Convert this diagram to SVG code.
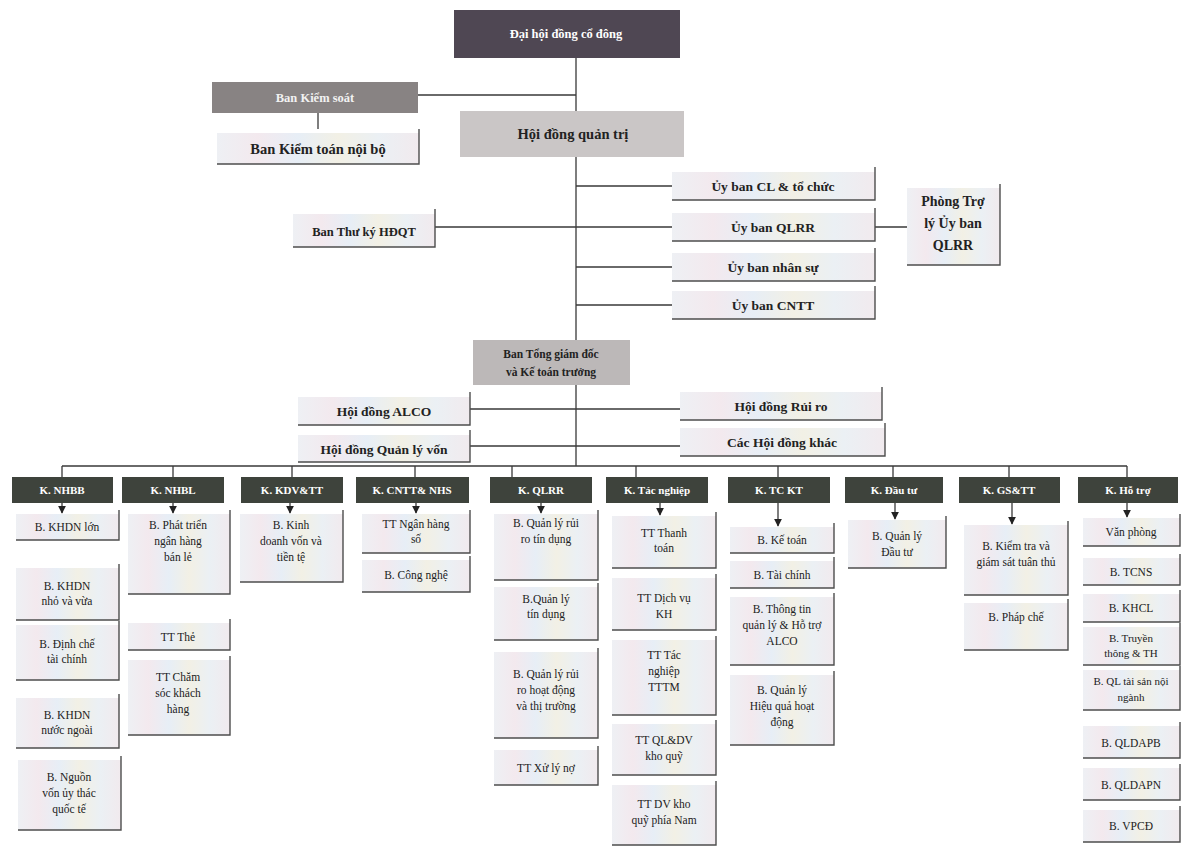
<svg xmlns="http://www.w3.org/2000/svg" width="1197" height="847" viewBox="0 0 1197 847">
<style>
.bg{fill:#ffffff}
.lb{fill:url(#pastel)}
.ed{fill:none;stroke:#4d4d4d;stroke-width:1.4}
.hd{fill:#3e433c}
.top{fill:#4f4753}
.ks{fill:#888383}
.hq{fill:#cac6c6}
.tg{fill:#bcb8b8}
.t{font-family:"Liberation Serif","DejaVu Serif",serif;font-size:11.5px;fill:#222;text-anchor:middle}
.b{font-weight:bold}
.u{font-size:13.5px}
.w{fill:#ffffff;font-weight:bold}
.h{font-size:11px}
.cn{stroke:#3a3a3a;stroke-width:1.3;fill:none}
</style>
<defs>
<linearGradient id="pastel" x1="0" y1="0" x2="1" y2="0">
<stop offset="0" stop-color="#eef0f4"/>
<stop offset="0.2" stop-color="#f3e9ee"/>
<stop offset="0.4" stop-color="#e7eef6"/>
<stop offset="0.6" stop-color="#f2f0e5"/>
<stop offset="0.8" stop-color="#ebf0f4"/>
<stop offset="1" stop-color="#f1eaee"/>
</linearGradient>
<marker id="arr" viewBox="0 0 10 10" refX="9" refY="5" markerWidth="6" markerHeight="6" orient="auto">
<path d="M0,0 L10,5 L0,10 z" fill="#222"/>
</marker>
</defs>
<rect class="bg" x="0" y="0" width="1197" height="847"/>

<g id="connectors">
<path class="cn" d="M576,58 V111 M418,95 H576 M318,113 V129 M576,157 V340 M576,186 H672 M435,227 H672 M576,267 H672 M576,305 H672 M875,227 H907 M576,385 V466 M470,409 H680 M470,446 H680 M62,466 H1127"/>
<path class="cn" d="M62,466 V477 M173,466 V477 M292,466 V477 M415,466 V477 M512,466 V477 M636,466 V477 M778,466 V477 M893,466 V477 M1009,466 V477 M1127,466 V477"/>
<g marker-end="url(#arr)">
<path class="cn" d="M62,503 V513"/>
<path class="cn" d="M173,503 V513"/>
<path class="cn" d="M290,503 V513"/>
<path class="cn" d="M416,503 V513"/>
<path class="cn" d="M541,503 V513"/>
<path class="cn" d="M660,503 V515"/>
<path class="cn" d="M778,503 V526"/>
<path class="cn" d="M895,503 V519"/>
<path class="cn" d="M1012,503 V524"/>
<path class="cn" d="M1127,503 V517"/>
</g>
</g>

<g id="dhdcd"><rect class="top" x="454" y="10" width="226" height="48"/><text class="t w" x="566" y="38" style="font-size:12.5px">Đại hội đồng cổ đông</text></g>
<g id="bks"><rect class="ks" x="212" y="82" width="206" height="31"/><text class="t w" x="315" y="102" style="font-size:12.5px;fill:#f2f2f2">Ban Kiểm soát</text></g>
<g id="bktnb"><rect class="lb" x="217" y="133" width="202" height="31"/><path class="ed" d="M419,129 V164 H217"/><text class="t b" x="318" y="154" style="font-size:14.5px">Ban Kiểm toán nội bộ</text></g>
<g id="hdqt"><rect class="hq" x="460" y="111" width="224" height="46"/><text class="t b" x="573" y="139" style="font-size:14.5px">Hội đồng quản trị</text></g>

<g id="ub-cl"><rect class="lb" x="672" y="172" width="203" height="28"/><path class="ed" d="M875,167 V200 H672"/><text class="t b u" x="773" y="191">Ủy ban CL &amp; tổ chức</text></g>
<g id="ub-qlrr"><rect class="lb" x="672" y="213" width="203" height="28"/><path class="ed" d="M875,208 V241 H672"/><text class="t b u" x="773" y="232">Ủy ban QLRR</text></g>
<g id="ub-ns"><rect class="lb" x="672" y="253" width="203" height="28"/><path class="ed" d="M875,248 V281 H672"/><text class="t b u" x="773" y="272">Ủy ban nhân sự</text></g>
<g id="ub-cntt"><rect class="lb" x="672" y="291" width="203" height="28"/><path class="ed" d="M875,286 V319 H672"/><text class="t b u" x="773" y="310">Ủy ban CNTT</text></g>
<g id="btk"><rect class="lb" x="293" y="214" width="142" height="33"/><path class="ed" d="M435,209 V247 H293"/><text class="t b" x="364" y="236" style="font-size:12.5px">Ban Thư ký HĐQT</text></g>
<g id="ptl"><rect class="lb" x="907" y="188" width="93" height="77"/><path class="ed" d="M1000,184 V265 H907"/><text class="t b" x="953" y="206" style="font-size:14px">Phòng Trợ<tspan x="953" dy="22">lý Ủy ban</tspan><tspan x="953" dy="22">QLRR</tspan></text></g>

<g id="btgd"><rect class="tg" x="473" y="340" width="157" height="45"/><text class="t b" x="551" y="358" style="font-size:11.5px">Ban Tổng giám đốc<tspan x="551" dy="18">và Kế toán trưởng</tspan></text></g>
<g id="hd-alco"><rect class="lb" x="298" y="397" width="172" height="28"/><path class="ed" d="M470,392 V425 H298"/><text class="t b u" x="384" y="416">Hội đồng ALCO</text></g>
<g id="hd-rr"><rect class="lb" x="680" y="392" width="202" height="28"/><path class="ed" d="M882,387 V420 H680"/><text class="t b u" x="781" y="411">Hội đồng Rủi ro</text></g>
<g id="hd-qlv"><rect class="lb" x="298" y="435" width="172" height="27"/><path class="ed" d="M470,430 V462 H298"/><text class="t b u" x="384" y="454">Hội đồng Quản lý vốn</text></g>
<g id="hd-khac"><rect class="lb" x="680" y="428" width="205" height="28"/><path class="ed" d="M885,423 V456 H680"/><text class="t b u" x="782" y="447">Các Hội đồng khác</text></g>

<g id="k-nhbb"><rect class="hd" x="12" y="477" width="101" height="26"/><text class="t w h" x="62" y="494">K. NHBB</text></g>
<g id="k-nhbl"><rect class="hd" x="122" y="477" width="102" height="26"/><text class="t w h" x="173" y="494">K. NHBL</text></g>
<g id="k-kdvtt"><rect class="hd" x="241" y="477" width="102" height="26"/><text class="t w h" x="292" y="494">K. KDV&amp;TT</text></g>
<g id="k-cntt"><rect class="hd" x="356" y="477" width="113" height="26"/><text class="t w h" x="412" y="494">K. CNTT&amp; NHS</text></g>
<g id="k-qlrr"><rect class="hd" x="490" y="477" width="102" height="26"/><text class="t w h" x="541" y="494">K. QLRR</text></g>
<g id="k-tn"><rect class="hd" x="606" y="477" width="102" height="26"/><text class="t w h" x="657" y="494">K. Tác nghiệp</text></g>
<g id="k-tckt"><rect class="hd" x="728" y="477" width="102" height="26"/><text class="t w h" x="779" y="494">K. TC KT</text></g>
<g id="k-dt"><rect class="hd" x="845" y="477" width="98" height="26"/><text class="t w h" x="894" y="494">K. Đầu tư</text></g>
<g id="k-gstt"><rect class="hd" x="959" y="477" width="101" height="26"/><text class="t w h" x="1009" y="494">K. GS&amp;TT</text></g>
<g id="k-ht"><rect class="hd" x="1078" y="477" width="100" height="26"/><text class="t w h" x="1128" y="494">K. Hỗ trợ</text></g>

<g id="c1-1"><rect class="lb" x="16" y="514" width="103" height="26"/><path class="ed" d="M119,510 V540 H16"/><text class="t" x="67" y="531">B. KHDN lớn</text></g>
<g id="c1-2"><rect class="lb" x="16" y="568" width="103" height="52"/><path class="ed" d="M119,564 V620 H16"/><text class="t" x="67" y="590">B. KHDN<tspan x="67" dy="15">nhỏ và vừa</tspan></text></g>
<g id="c1-3"><rect class="lb" x="16" y="625" width="103" height="55"/><path class="ed" d="M119,621 V680 H16"/><text class="t" x="67" y="648">B. Định chế<tspan x="67" dy="15">tài chính</tspan></text></g>
<g id="c1-4"><rect class="lb" x="16" y="698" width="103" height="50"/><path class="ed" d="M119,694 V748 H16"/><text class="t" x="67" y="719">B. KHDN<tspan x="67" dy="15">nước ngoài</tspan></text></g>
<g id="c1-5"><rect class="lb" x="18" y="760" width="103" height="70"/><path class="ed" d="M121,756 V830 H18"/><text class="t" x="69" y="781">B. Nguồn<tspan x="69" dy="16">vốn ủy thác</tspan><tspan x="69" dy="16">quốc tế</tspan></text></g>

<g id="c2-1"><rect class="lb" x="128" y="514" width="102" height="80"/><path class="ed" d="M230,510 V594 H128"/><text class="t" x="178" y="529">B. Phát triển<tspan x="178" dy="16">ngân hàng</tspan><tspan x="178" dy="16">bán lẻ</tspan></text></g>
<g id="c2-2"><rect class="lb" x="128" y="623" width="102" height="27"/><path class="ed" d="M230,619 V650 H128"/><text class="t" x="178" y="641">TT Thẻ</text></g>
<g id="c2-3"><rect class="lb" x="128" y="660" width="102" height="75"/><path class="ed" d="M230,656 V735 H128"/><text class="t" x="178" y="681">TT Chăm<tspan x="178" dy="16">sóc khách</tspan><tspan x="178" dy="16">hàng</tspan></text></g>

<g id="c3-1"><rect class="lb" x="240" y="514" width="103" height="68"/><path class="ed" d="M343,510 V582 H240"/><text class="t" x="291" y="529">B. Kinh<tspan x="291" dy="16">doanh vốn và</tspan><tspan x="291" dy="16">tiền tệ</tspan></text></g>

<g id="c4-1"><rect class="lb" x="362" y="514" width="108" height="39"/><path class="ed" d="M470,510 V553 H362"/><text class="t" x="416" y="528">TT Ngân hàng<tspan x="416" dy="15">số</tspan></text></g>
<g id="c4-2"><rect class="lb" x="362" y="560" width="108" height="32"/><path class="ed" d="M470,556 V592 H362"/><text class="t" x="416" y="579">B. Công nghệ</text></g>

<g id="c5-1"><rect class="lb" x="494" y="514" width="104" height="66"/><path class="ed" d="M598,510 V580 H494"/><text class="t" x="546" y="527">B. Quản lý rủi<tspan x="546" dy="16">ro tín dụng</tspan></text></g>
<g id="c5-2"><rect class="lb" x="494" y="587" width="104" height="53"/><path class="ed" d="M598,583 V640 H494"/><text class="t" x="546" y="603">B.Quản lý<tspan x="546" dy="15">tín dụng</tspan></text></g>
<g id="c5-3"><rect class="lb" x="494" y="652" width="104" height="86"/><path class="ed" d="M598,648 V738 H494"/><text class="t" x="546" y="678">B. Quản lý rủi<tspan x="546" dy="16">ro hoạt động</tspan><tspan x="546" dy="16">và thị trường</tspan></text></g>
<g id="c5-4"><rect class="lb" x="494" y="750" width="104" height="35"/><path class="ed" d="M598,746 V785 H494"/><text class="t" x="546" y="772">TT Xử lý nợ</text></g>

<g id="c6-1"><rect class="lb" x="612" y="516" width="104" height="52"/><path class="ed" d="M716,512 V568 H612"/><text class="t" x="664" y="537">TT Thanh<tspan x="664" dy="15">toán</tspan></text></g>
<g id="c6-2"><rect class="lb" x="612" y="578" width="104" height="52"/><path class="ed" d="M716,574 V630 H612"/><text class="t" x="664" y="602">TT Dịch vụ<tspan x="664" dy="16">KH</tspan></text></g>
<g id="c6-3"><rect class="lb" x="612" y="640" width="104" height="75"/><path class="ed" d="M716,636 V715 H612"/><text class="t" x="664" y="659">TT Tác<tspan x="664" dy="16">nghiệp</tspan><tspan x="664" dy="16">TTTM</tspan></text></g>
<g id="c6-4"><rect class="lb" x="612" y="724" width="104" height="51"/><path class="ed" d="M716,720 V775 H612"/><text class="t" x="664" y="744">TT QL&amp;DV<tspan x="664" dy="16">kho quỹ</tspan></text></g>
<g id="c6-5"><rect class="lb" x="612" y="785" width="104" height="60"/><path class="ed" d="M716,781 V845 H612"/><text class="t" x="664" y="808">TT DV kho<tspan x="664" dy="16">quỹ phía Nam</tspan></text></g>

<g id="c7-1"><rect class="lb" x="730" y="527" width="104" height="26"/><path class="ed" d="M834,523 V553 H730"/><text class="t" x="782" y="544">B. Kế toán</text></g>
<g id="c7-2"><rect class="lb" x="730" y="561" width="104" height="27"/><path class="ed" d="M834,557 V588 H730"/><text class="t" x="782" y="579">B. Tài chính</text></g>
<g id="c7-3"><rect class="lb" x="730" y="597" width="104" height="68"/><path class="ed" d="M834,593 V665 H730"/><text class="t" x="782" y="613">B. Thông tin<tspan x="782" dy="16">quản lý &amp; Hỗ trợ</tspan><tspan x="782" dy="16">ALCO</tspan></text></g>
<g id="c7-4"><rect class="lb" x="730" y="675" width="104" height="70"/><path class="ed" d="M834,671 V745 H730"/><text class="t" x="782" y="694">B. Quản lý<tspan x="782" dy="16">Hiệu quả hoạt</tspan><tspan x="782" dy="16">động</tspan></text></g>

<g id="c8-1"><rect class="lb" x="848" y="520" width="98" height="48"/><path class="ed" d="M946,516 V568 H848"/><text class="t" x="897" y="540">B. Quản lý<tspan x="897" dy="16">Đầu tư</tspan></text></g>

<g id="c9-1"><rect class="lb" x="964" y="525" width="104" height="70"/><path class="ed" d="M1068,521 V595 H964"/><text class="t" x="1016" y="550">B. Kiểm tra và<tspan x="1016" dy="16">giám sát tuân thủ</tspan></text></g>
<g id="c9-2"><rect class="lb" x="964" y="603" width="104" height="47"/><path class="ed" d="M1068,599 V650 H964"/><text class="t" x="1016" y="621">B. Pháp chế</text></g>

<g id="c10-1"><rect class="lb" x="1083" y="518" width="97" height="28"/><path class="ed" d="M1180,514 V546 H1083"/><text class="t" x="1131" y="536">Văn phòng</text></g>
<g id="c10-2"><rect class="lb" x="1083" y="558" width="97" height="27"/><path class="ed" d="M1180,554 V585 H1083"/><text class="t" x="1131" y="576">B. TCNS</text></g>
<g id="c10-3"><rect class="lb" x="1083" y="594" width="97" height="28"/><path class="ed" d="M1180,590 V622 H1083"/><text class="t" x="1131" y="612">B. KHCL</text></g>
<g id="c10-4"><rect class="lb" x="1083" y="627" width="97" height="38"/><path class="ed" d="M1180,623 V665 H1083"/><text class="t" x="1131" y="642" style="font-size:11px">B. Truyền<tspan x="1131" dy="15">thông &amp; TH</tspan></text></g>
<g id="c10-5"><rect class="lb" x="1083" y="670" width="97" height="40"/><path class="ed" d="M1180,666 V710 H1083"/><text class="t" x="1131" y="685" style="font-size:11px">B. QL tài sản nội<tspan x="1131" dy="16">ngành</tspan></text></g>
<g id="c10-6"><rect class="lb" x="1083" y="726" width="97" height="32"/><path class="ed" d="M1180,722 V758 H1083"/><text class="t" x="1131" y="747">B. QLDAPB</text></g>
<g id="c10-7"><rect class="lb" x="1083" y="768" width="97" height="32"/><path class="ed" d="M1180,764 V800 H1083"/><text class="t" x="1131" y="789">B. QLDAPN</text></g>
<g id="c10-8"><rect class="lb" x="1083" y="810" width="97" height="32"/><path class="ed" d="M1180,806 V842 H1083"/><text class="t" x="1131" y="830">B. VPCĐ</text></g>
</svg>
